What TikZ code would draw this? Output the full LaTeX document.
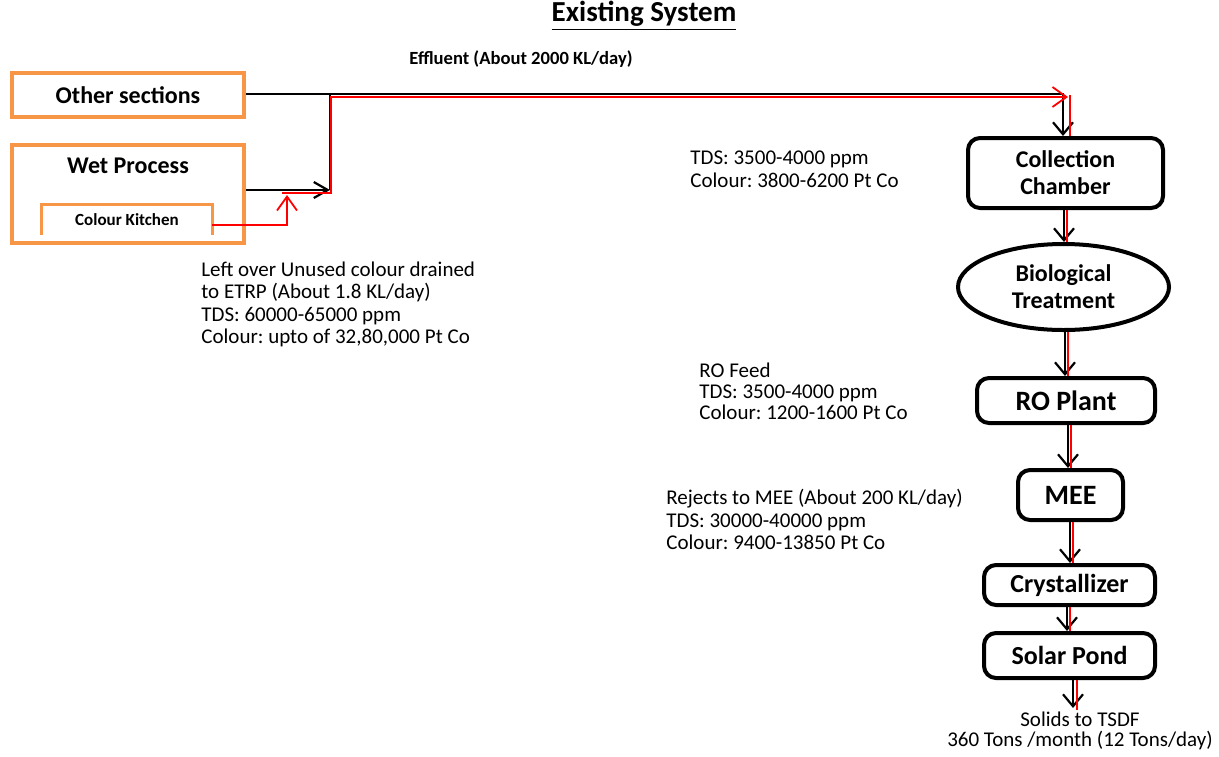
\documentclass[tikz,border=0pt]{standalone}
\usepackage{fontspec}
\setmainfont{Carlito}
\usetikzlibrary{arrows.meta, positioning, shapes.geometric}
\frenchspacing

\definecolor{srcorange}{RGB}{247,150,70}

\tikzset{
  srcbox/.style={draw=srcorange, line width=2.2pt, inner sep=0pt, font=\bfseries\fontsize{12}{13.5}\selectfont},
  unitbox/.style={draw, line width=2pt, rounded corners=6pt, inner sep=0pt, align=center, font=\bfseries\fontsize{13}{13.5}\selectfont},
  note/.style={inner sep=0pt, align=left, anchor=west, font=\fontsize{10.5}{11.25}\selectfont},
  flow/.style={line width=1.1pt},
  redflow/.style={red, line width=0.9pt},
  barb/.style={-{Straight Barb[length=6pt,width=10pt]}},
}

\begin{document}
\begin{tikzpicture}[x=0.5pt, y=-0.5pt]
\useasboundingbox (0,0) rectangle (1219,756);

% Titres
\node[font=\bfseries\fontsize{14.5}{16}\selectfont] (title) at (644,16) {\underline{Existing System}};
\node[font=\bfseries\fontsize{9.3}{10}\selectfont] (effluent) at (521,59) {Effluent (About 2000 KL/day)};

% Sources
\node[srcbox, minimum width=116pt, minimum height=22pt] (other) at (128,95) {Other sections};
\node[srcbox, minimum width=116pt, minimum height=49pt] (wet) at (128,194) {};
\node[font=\bfseries\fontsize{12}{13.5}\selectfont] (wettitle) at (128,166) {Wet Process};
\node[font=\bfseries\fontsize{8.5}{10}\selectfont, minimum width=85pt, minimum height=15pt, inner sep=0pt] (kitchen) at (127,220) {Colour Kitchen};
\draw[srcorange, line width=1.5pt] (kitchen.south west) |- (kitchen.north east) -- (kitchen.south east);

% Traitement
\node[unitbox, minimum width=97.5pt, minimum height=35pt, font=\bfseries\fontsize{12}{13.5}\selectfont] (collect) at (1065.5,173) {Collection\\Chamber};
\node[draw, ellipse, line width=2pt, inner sep=0pt, minimum width=105.5pt, minimum height=43pt, align=center, font=\bfseries\fontsize{12}{13.5}\selectfont] (bio) at (1063.5,287) {Biological\\Treatment};
\node[unitbox, minimum width=89pt, minimum height=22.5pt, font=\bfseries\fontsize{14}{14}\selectfont] (ro) at (1066,400.5) {RO Plant};
\node[unitbox, minimum width=52.5pt, minimum height=25pt, font=\bfseries\fontsize{14}{14}\selectfont] (mee) at (1070.5,495) {MEE};
\node[unitbox, minimum width=85.5pt, minimum height=20pt] (cryst) at (1069.5,585) {Crystallizer};
\node[unitbox, minimum width=85.5pt, minimum height=22.5pt] (solar) at (1069.5,655.5) {Solar Pond};

% Points de raccord
\coordinate (merge) at (330,190);
\coordinate (tee) at (330,94);
\coordinate (drop) at (1063,94);
\coordinate (redup) at (287,195);
\coordinate (redbend) at (331,193);
\coordinate (redtop) at (331,97);
\coordinate (redend) at (1068,97);
\coordinate (reddrop) at (1070,95);

% Effluent (noir)
\draw[flow, barb] (other.east |- drop) -- (drop) -- (drop |- collect.north);
\draw[flow] (merge) -- (tee);
\draw[flow, -{Straight Barb[length=7pt,width=8pt]}] (wet.east |- merge) -- (merge);

% Couleur (rouge)
\draw[redflow, -{Straight Barb[length=7pt,width=10pt]}] ([yshift=-2.5pt]kitchen.east) -| (redup);
\draw[redflow, -{Straight Barb[length=7pt,width=10pt]}] (282,193) -- (redbend) -- (redtop) -- (redend);
\draw[redflow] (reddrop) -- (reddrop |- collect.north);

% Chaine
\foreach \a/\b/\col in {collect/bio/1064, bio/ro/1065, ro/mee/1068, mee/cryst/1070, cryst/solar/1067} {
  \coordinate (col) at (\col,0);
  \coordinate (colr) at (\col+3,0);
  \draw[flow, barb] (col |- \a.south) -- (col |- \b.north);
  \draw[redflow] (colr |- \a.south) -- (colr |- \b.north);
}
\coordinate (tsdf) at (1073,708);
\coordinate (tsdfr) at (1077,710);
\draw[flow, barb] (solar.south -| tsdf) -- (tsdf);
\draw[redflow] (solar.south -| tsdfr) -- (tsdfr);

% Annotations
\node[note] (tdsin) at (690,169.5) {TDS: 3500-4000 ppm\\Colour: 3800-6200 Pt Co};
\node[note] (leftover) at (201,304.5) {Left over Unused colour drained\\to ETRP (About 1.8 KL/day)\\TDS: 60000-65000 ppm\\Colour: upto of 32,80,000 Pt Co};
\node[note, font=\fontsize{10.5}{10.5}\selectfont] (rofeed) at (699,391) {RO Feed\\TDS: 3500-4000 ppm\\Colour: 1200-1600 Pt Co};
\node[note] (rejects) at (666,519.5) {Rejects to MEE (About 200 KL/day)\\TDS: 30000-40000 ppm\\Colour: 9400-13850 Pt Co};
\node[align=center, inner sep=0pt, font=\fontsize{10.5}{10}\selectfont] (solids) at (1080,731) {Solids to TSDF\\360 Tons /month (12 Tons/day)};

\end{tikzpicture}
\end{document}
